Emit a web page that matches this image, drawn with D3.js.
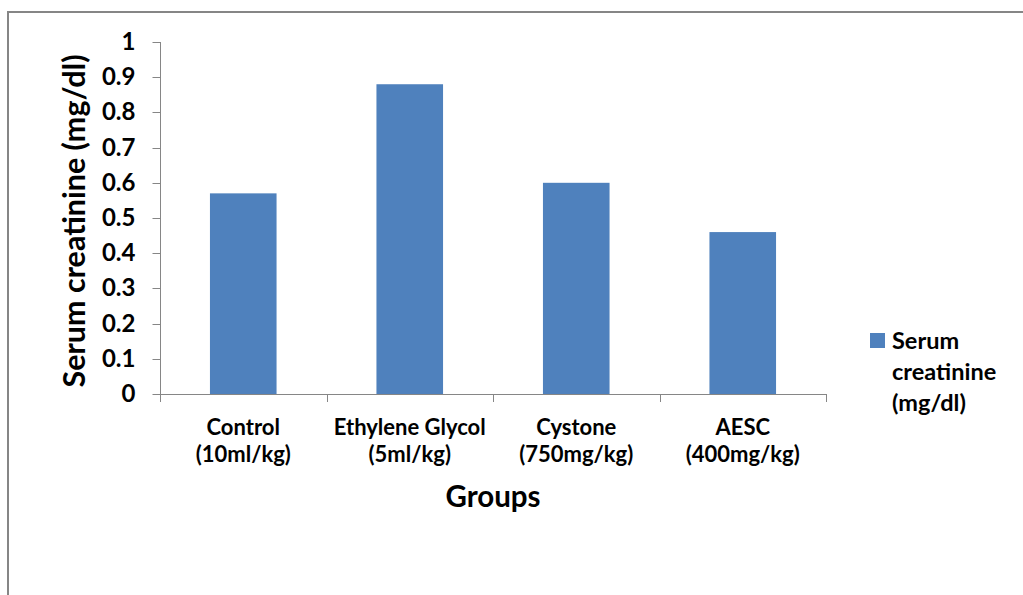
<!DOCTYPE html>
<html>
<head>
<meta charset="utf-8">
<script src="https://cdn.jsdelivr.net/npm/d3@7"></script>
<style>
  html, body { margin: 0; padding: 0; background: #fff; }
  svg { display: block; }
  text { font-family: Lato, "Open Sans", sans-serif; font-weight: bold; fill: #000; }
</style>
</head>
<body>
<svg id="chart" width="1023" height="595"></svg>
<script>
const categories = ["Control|(10ml/kg)", "Ethylene Glycol|(5ml/kg)", "Cystone|(750mg/kg)", "AESC|(400mg/kg)"];
const values = [0.57, 0.88, 0.60, 0.46];
const yTicks = [0, 0.1, 0.2, 0.3, 0.4, 0.5, 0.6, 0.7, 0.8, 0.9, 1];
const yTickLabels = ["0", "0.1", "0.2", "0.3", "0.4", "0.5", "0.6", "0.7", "0.8", "0.9", "1"];
const seriesName = ["Serum", "creatinine", "(mg/dl)"];
const yTitle = "Serum creatinine (mg/dl)";
const xTitle = "Groups";

(function () {
const svg = d3.select("#chart");
const W = 1023, H = 595;
const axisColor = "#868686";
const barColor = "#4f81bd";

svg.append("rect").attr("x", 8).attr("y", 12).attr("width", W + 20).attr("height", H + 20)
  .attr("fill", "none").attr("stroke", axisColor).attr("stroke-width", 2);

const pl = 160, pr = 826, pt = 42, pb = 394;

const x = d3.scaleBand().domain(categories).range([pl, pr]).paddingInner(0.6).paddingOuter(0.3);
const y = d3.scaleLinear().domain([0, 1]).range([pb, pt]);

svg.append("g").selectAll("rect").data(values).join("rect")
  .attr("x", (d, i) => x(categories[i]))
  .attr("width", x.bandwidth())
  .attr("y", d => y(d))
  .attr("height", d => y(0) - y(d))
  .attr("fill", barColor);

const yAxis = d3.axisLeft(y).tickValues(yTicks).tickFormat((d, i) => yTickLabels[i]).tickSize(8).tickPadding(17);
const gy = svg.append("g").attr("transform", `translate(${pl + 0.5},0)`).call(yAxis);
gy.select(".domain").attr("stroke", axisColor).attr("d", `M0,${pt}V${pb}`);
gy.selectAll(".tick line").attr("stroke", axisColor);
gy.selectAll(".tick").attr("transform", d => `translate(0,${Math.round(y(d)) + 0.5})`);
gy.selectAll(".tick text").attr("font-size", 24).attr("font-family", "Lato, sans-serif").attr("font-weight", "bold").attr("fill", "#000");

const gx = svg.append("g");
gx.append("line").attr("x1", pl).attr("x2", pr + 0.5).attr("y1", pb + 0.5).attr("y2", pb + 0.5)
  .attr("stroke", axisColor);
const boundaryX = categories.map(c => x(c) - x.step() * x.paddingOuter());
boundaryX.push(pr);
gx.selectAll("line.tk").data(boundaryX).join("line").attr("class", "tk")
  .attr("x1", d => Math.round(d) + 0.5).attr("x2", d => Math.round(d) + 0.5)
  .attr("y1", pb).attr("y2", pb + 8).attr("stroke", axisColor);

categories.forEach(c => {
  const parts = c.split("|");
  const cx = x(c) + x.bandwidth() / 2;
  const t = svg.append("text").attr("text-anchor", "middle").attr("font-size", 22).attr("x", cx).attr("y", 435);
  parts.forEach((p, j) => t.append("tspan").attr("x", cx).attr("dy", j === 0 ? 0 : 27).text(p));
});

svg.append("text").attr("text-anchor", "middle").attr("font-size", 29.5)
  .attr("x", (pl + pr) / 2).attr("y", 507).text(xTitle);
svg.append("text").attr("text-anchor", "middle").attr("font-size", 30.5)
  .attr("transform", `translate(85,221) rotate(-90)`).text(yTitle);

svg.append("rect").attr("x", 870).attr("y", 333).attr("width", 15).attr("height", 15).attr("fill", barColor);
const lt = svg.append("text").attr("font-size", 23.5).attr("x", 892).attr("y", 349);
seriesName.forEach((s, j) => lt.append("tspan").attr("x", 892).attr("dy", j === 0 ? 0 : 31).text(s));
})();
</script>
</body>
</html>
